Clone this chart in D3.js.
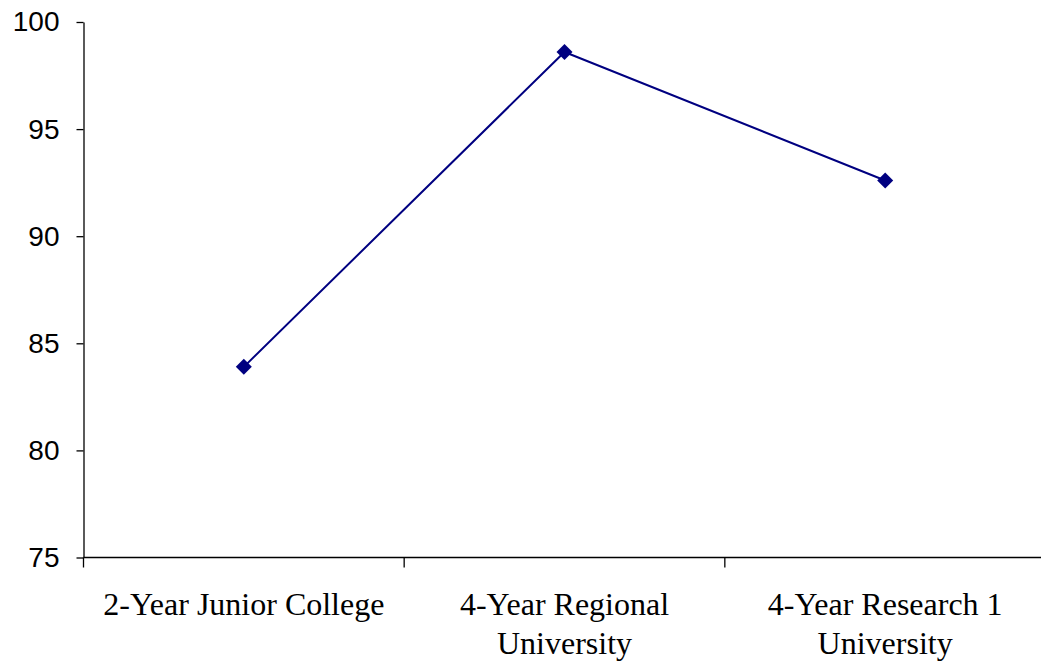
<!DOCTYPE html>
<html>
<head>
<meta charset="utf-8">
<script src="https://cdn.jsdelivr.net/npm/d3@7"></script>
<style>
  html, body { margin: 0; padding: 0; background: #fff; }
  svg { display: block; }
</style>
</head>
<body>
<svg id="chart" width="1041" height="667"></svg>
<script>
// Institution types and their scores
const categories = ["2-Year Junior College", "4-Year Regional University", "4-Year Research 1 University"];
const categoryLines = [["2-Year Junior College"], ["4-Year Regional", "University"], ["4-Year Research 1", "University"]];
const scores = [83.9, 98.6, 92.6];
const yTicks = [75, 80, 85, 90, 95, 100];

const svg = d3.select("#chart");
const plotLeft = 83.5, plotRight = 1045.5, plotTop = 22, plotBottom = 557.5;

const x = d3.scaleBand().domain(categories).range([plotLeft, plotRight]);
const y = d3.scaleLinear().domain([75, 100]).range([plotBottom, plotTop]);

// Y axis
const yAxis = svg.append("g")
  .attr("transform", `translate(${plotLeft},0)`)
  .call(d3.axisLeft(y).tickValues(yTicks).tickSize(7).tickPadding(17).tickSizeOuter(0));
yAxis.select(".domain").attr("stroke", "#000").attr("stroke-width", 1.3);
yAxis.selectAll(".tick line").attr("stroke", "#000").attr("stroke-width", 1.3);
yAxis.selectAll(".tick text")
  .attr("font-family", "Liberation Sans, Arial, sans-serif")
  .attr("font-size", 28)
  .attr("fill", "#000");

// X axis with ticks on band boundaries
const xAxisG = svg.append("g").attr("transform", `translate(0,${plotBottom})`);
xAxisG.append("line")
  .attr("x1", plotLeft).attr("x2", plotRight)
  .attr("stroke", "#000").attr("stroke-width", 1.3);
const boundaries = categories.map(c => x(c)).concat([x(categories[categories.length - 1]) + x.bandwidth()]);
xAxisG.selectAll("line.tick")
  .data(boundaries)
  .join("line")
  .attr("class", "tick")
  .attr("x1", d => d).attr("x2", d => d)
  .attr("y1", 0).attr("y2", 10)
  .attr("stroke", "#000").attr("stroke-width", 1.3);

// Category labels
const labels = xAxisG.selectAll("text.cat")
  .data(categories)
  .join("text")
  .attr("class", "cat")
  .attr("x", d => x(d) + x.bandwidth() / 2)
  .attr("y", 57.5)
  .attr("text-anchor", "middle")
  .attr("font-family", "Liberation Serif, Times New Roman, serif")
  .attr("font-size", 32)
  .attr("fill", "#000");
labels.each(function(d, i) {
  const t = d3.select(this);
  categoryLines[i].forEach((ln, j) => {
    t.append("tspan")
      .attr("x", x(d) + x.bandwidth() / 2)
      .attr("dy", j === 0 ? 0 : 39)
      .text(ln);
  });
});

// Line series
const pts = categories.map((c, i) => ({ c, v: scores[i] }));
const line = d3.line()
  .x(d => x(d.c) + x.bandwidth() / 2)
  .y(d => y(d.v));
svg.append("path")
  .datum(pts)
  .attr("d", line)
  .attr("fill", "none")
  .attr("stroke", "#000080")
  .attr("stroke-width", 2);

// Diamond markers
const r = 8;
svg.selectAll("path.marker")
  .data(pts)
  .join("path")
  .attr("class", "marker")
  .attr("transform", d => `translate(${x(d.c) + x.bandwidth() / 2},${y(d.v)})`)
  .attr("d", `M0,${-r}L${r},0L0,${r}L${-r},0Z`)
  .attr("fill", "#000080");
</script>
</body>
</html>
